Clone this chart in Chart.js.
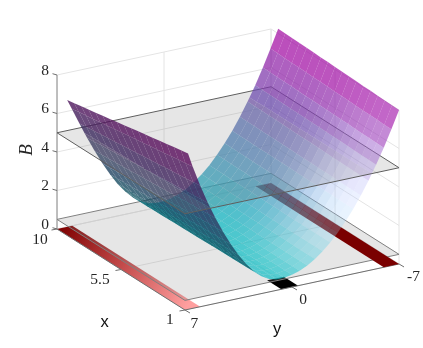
<!DOCTYPE html>
<html>
<head>
<meta charset="utf-8">
<style>html,body{margin:0;padding:0;background:#fff}canvas{display:block}</style>
<script src="https://cdn.jsdelivr.net/npm/chart.js@4"></script>
</head>
<body>
<canvas id="c" width="423" height="348"></canvas>
<script>
const xTicks = [10, 5.5, 1];
const yTicks = [7, 0, -7];
const zTicks = [0, 2, 4, 6, 8];
const planeLevels = [0.5, 5];
const xGrid = [1, 1.5, 2, 2.5, 3, 3.5, 4, 4.5, 5, 5.5, 6, 6.5, 7, 7.5, 8, 8.5, 9, 9.5];
const yGrid = [-7, -6.5, -6, -5.5, -5, -4.5, -4, -3.5, -3, -2.5, -2, -1.5, -1, -0.5, 0, 0.5, 1, 1.5, 2, 2.5, 3, 3.5, 4, 4.5, 5, 5.5, 6, 6.5, 6.8];
// one row per xGrid value, one column per yGrid value
const surfaceZ = [
  [8.00,7.08,6.21,5.41,4.67,3.99,3.37,2.82,2.32,1.88,1.51,1.20,.95,.76,.63,.56,.56,.67,.90,1.24,1.71,2.26,2.90,3.63,4.43,5.30,6.28,7.37,8.10],
  [8.01,7.09,6.22,5.42,4.68,4.00,3.38,2.82,2.32,1.88,1.51,1.20,.95,.76,.63,.56,.56,.67,.90,1.23,1.70,2.24,2.88,3.61,4.40,5.27,6.24,7.31,8.03],
  [8.03,7.11,6.23,5.43,4.69,4.00,3.38,2.83,2.33,1.88,1.51,1.20,.95,.76,.63,.56,.56,.67,.89,1.22,1.69,2.23,2.86,3.58,4.37,5.23,6.19,7.26,7.96],
  [8.04,7.12,6.24,5.44,4.69,4.01,3.39,2.83,2.33,1.89,1.52,1.20,.95,.76,.63,.56,.56,.67,.89,1.22,1.67,2.21,2.84,3.56,4.35,5.20,6.15,7.20,7.89],
  [8.06,7.13,6.25,5.45,4.70,4.02,3.39,2.84,2.33,1.89,1.52,1.21,.95,.76,.63,.56,.56,.66,.88,1.21,1.66,2.19,2.82,3.53,4.32,5.16,6.11,7.14,7.82],
  [8.07,7.14,6.27,5.46,4.71,4.02,3.40,2.84,2.34,1.89,1.52,1.21,.95,.76,.63,.56,.56,.66,.88,1.20,1.65,2.18,2.80,3.51,4.29,5.13,6.07,7.08,7.75],
  [8.09,7.16,6.28,5.47,4.72,4.03,3.40,2.84,2.34,1.89,1.52,1.21,.95,.76,.63,.56,.56,.66,.87,1.19,1.64,2.16,2.78,3.49,4.26,5.10,6.02,7.03,7.68],
  [8.10,7.17,6.29,5.48,4.73,4.04,3.41,2.85,2.34,1.90,1.52,1.21,.95,.76,.63,.56,.56,.66,.87,1.18,1.62,2.14,2.76,3.46,4.23,5.06,5.98,6.97,7.61],
  [8.12,7.18,6.30,5.49,4.74,4.04,3.41,2.85,2.35,1.90,1.52,1.21,.96,.77,.63,.56,.56,.65,.86,1.17,1.61,2.13,2.74,3.44,4.20,5.03,5.94,6.91,7.54],
  [8.13,7.20,6.31,5.49,4.74,4.05,3.42,2.86,2.35,1.90,1.53,1.21,.96,.77,.63,.56,.56,.65,.86,1.17,1.60,2.11,2.72,3.41,4.18,4.99,5.89,6.86,7.46],
  [8.15,7.21,6.32,5.50,4.75,4.06,3.42,2.86,2.36,1.90,1.53,1.21,.96,.77,.63,.56,.56,.65,.85,1.16,1.59,2.10,2.70,3.39,4.15,4.96,5.85,6.80,7.39],
  [8.16,7.22,6.33,5.51,4.76,4.06,3.43,2.87,2.36,1.91,1.53,1.21,.96,.77,.63,.56,.56,.65,.85,1.15,1.57,2.08,2.68,3.36,4.12,4.92,5.81,6.74,7.32],
  [8.18,7.24,6.34,5.52,4.77,4.07,3.43,2.87,2.36,1.91,1.53,1.22,.96,.77,.63,.56,.56,.64,.84,1.14,1.56,2.06,2.66,3.34,4.09,4.89,5.77,6.68,7.25],
  [8.19,7.25,6.36,5.53,4.78,4.07,3.44,2.87,2.37,1.91,1.53,1.22,.96,.77,.63,.56,.56,.64,.84,1.13,1.55,2.05,2.64,3.32,4.06,4.86,5.72,6.63,7.18],
  [8.21,7.26,6.37,5.54,4.78,4.08,3.44,2.88,2.37,1.91,1.54,1.22,.96,.77,.63,.56,.56,.64,.83,1.13,1.54,2.03,2.62,3.29,4.04,4.82,5.68,6.57,7.11],
  [8.22,7.27,6.38,5.55,4.79,4.09,3.45,2.88,2.37,1.92,1.54,1.22,.96,.77,.63,.56,.56,.64,.83,1.12,1.52,2.01,2.60,3.27,4.01,4.79,5.64,6.51,7.04],
  [8.24,7.29,6.39,5.56,4.80,4.09,3.45,2.89,2.38,1.92,1.54,1.22,.96,.77,.63,.56,.56,.63,.82,1.11,1.51,2.00,2.58,3.24,3.98,4.75,5.59,6.46,6.97],
  [8.25,7.30,6.40,5.57,4.81,4.10,3.46,2.89,2.38,1.92,1.54,1.22,.96,.77,.63,.56,.56,.63,.82,1.10,1.50,1.98,2.56,3.22,3.95,4.72,5.55,6.40,6.90],
];
// floor bars: y from, y to, x from, x to
const barLeft = [7, 6, 10, 1];
const barRight = [-6, -7, 10, 1];
const barMiddle = [0.7, -0.4, 2, 1];

// view of the box, same idea as view(az,el) but fitted to the picture
function project(x, y, z) {
  const u = 10 - x, v = 7 - y;
  return { x: 57 + u * 14.22 + v * 15.29, y: 229 + u * 9 - v * 3.286 - z * 19.25 };
}

const ctx = document.getElementById('c').getContext('2d');
const ds = [];
function poly(pts, color) {
  ds.push({ data: pts.map(p => project(p[0], p[1], p[2])), showLine: true, fill: 'shape', backgroundColor: color, borderWidth: 0, pointRadius: 0 });
}
function line(a, b, color, w) {
  ds.push({ data: [project(a[0], a[1], a[2]), project(b[0], b[1], b[2])], showLine: true, fill: false, borderColor: color, borderWidth: w || 1, pointRadius: 0 });
}
function tickMark(p, dx, dy, color) {
  const q = project(p[0], p[1], p[2]);
  ds.push({ data: [q, { x: q.x + dx, y: q.y + dy }], showLine: true, fill: false, borderColor: color, borderWidth: 1, pointRadius: 0 });
}
function bar(b, color) {
  poly([[b[2], b[0], 0], [b[2], b[1], 0], [b[3], b[1], 0], [b[3], b[0], 0]], color);
}

// clip a quad against z=level, keep the part on one side
function clipZ(pts, level, above) {
  const out = [];
  pts.forEach((p, i) => {
    const q = pts[(i + 1) % pts.length];
    const pIn = above ? p[2] >= level : p[2] <= level;
    const qIn = above ? q[2] >= level : q[2] <= level;
    if (pIn) out.push(p);
    if (pIn !== qIn) {
      const t = (level - p[2]) / (q[2] - p[2]);
      out.push([p[0] + t * (q[0] - p[0]), p[1] + t * (q[1] - p[1]), level]);
    }
  });
  return out;
}

function faceColor(x, y, z, front) {
  const t = Math.max(0, Math.min(1, 0.12 * z - 0.03));
  const k = front ? 195 - 15 * t : 100;
  let r = k * t, g = k * (1 - t), b = k * (1 - 0.1 * t);
  let alpha = front ? 0.74 : 0.8;
  if (front) {
    // highlight from the light, strongest near the x=1 end
    const sx = Math.exp(-Math.pow((x - 1) / 3.4, 2));
    const sy = Math.exp(-Math.pow((y + 4.2) / (y < -4.2 ? 1.7 : 3.3), 2));
    const s = sx * sy;
    r += (120 + 135 * t - r) * s; g += (255 - 135 * t - g) * s; b += (255 - b) * s;
    alpha -= 0.5 * s;
  }
  return `rgba(${Math.round(r)},${Math.round(g)},${Math.round(b)},${alpha.toFixed(3)})`;
}

// sort the cells into far wall (seen from inside) and near wall (seen from outside)
const farCells = [], nearCells = [];
for (let i = 0; i < xGrid.length - 1; i++) {
  for (let j = 0; j < yGrid.length - 1; j++) {
    const pts = [
      [xGrid[i], yGrid[j], surfaceZ[i][j]],
      [xGrid[i + 1], yGrid[j], surfaceZ[i + 1][j]],
      [xGrid[i + 1], yGrid[j + 1], surfaceZ[i + 1][j + 1]],
      [xGrid[i], yGrid[j + 1], surfaceZ[i][j + 1]],
    ];
    const s = pts.map(p => project(p[0], p[1], p[2]));
    let area = 0;
    s.forEach((p, n) => { const q = s[(n + 1) % 4]; area += p.x * q.y - q.x * p.y; });
    (area < 0 ? farCells : nearCells).push(pts);
  }
}
function drawCells(cells, front, above) {
  cells.forEach(pts => {
    const part = clipZ(pts, planeLevels[1], above);
    if (part.length < 3) return;
    const mx = pts.reduce((a, p) => a + p[0], 0) / 4, my = pts.reduce((a, p) => a + p[1], 0) / 4, mz = pts.reduce((a, p) => a + p[2], 0) / 4;
    poly(part, faceColor(mx, my, mz, front));
  });
}
function plane(z, edge) {
  poly([[10, 7, z], [1, 7, z], [1, -7, z], [10, -7, z]], 'rgba(128,128,128,0.2)');
  line([10, 7, z], [1, 7, z], edge);
  line([1, 7, z], [1, -7, z], edge);
  line([1, -7, z], [10, -7, z], edge);
  line([10, -7, z], [10, 7, z], edge);
}

// gridlines on the walls and floor
const gridCol = '#e4e4e4';
zTicks.forEach(z => {
  line([10, 7, z], [10, -7, z], gridCol);
  line([10, -7, z], [1, -7, z], gridCol);
});
xTicks.forEach(x => {
  line([x, 7, 0], [x, -7, 0], gridCol);
  line([x, -7, 0], [x, -7, 8], gridCol);
});
yTicks.forEach(y => {
  line([1, y, 0], [10, y, 0], gridCol);
  line([10, y, 0], [10, y, 8], gridCol);
});

const grad = ctx.createLinearGradient(project(10, 7, 0).x, project(10, 7, 0).y, project(1, 7, 0).x, project(1, 7, 0).y);
grad.addColorStop(0, '#7d0000');
grad.addColorStop(0.5, '#c44c4c');
grad.addColorStop(1, '#ff9f9f');
bar(barLeft, grad);
bar(barMiddle, '#000000');

// axes
const axisCol = '#6e6e6e';
line([10, 7, 0], [10, 7, 8], '#8a8a8a');
line([10, 7, 0], [1, 7, 0], axisCol);
line([1, 7, 0], [1, -7, 0], axisCol);
zTicks.forEach(z => tickMark([10, 7, z], -4.5, -1.3, axisCol));
xTicks.forEach(x => tickMark([x, 7, 0], -5.5, 1, axisCol));
yTicks.forEach(y => tickMark([1, y, 0], 5, 3, axisCol));

plane(planeLevels[0], '#808080');
bar(barRight, '#7a0000');
drawCells(farCells, true, false);
drawCells(nearCells, false, false);
plane(planeLevels[1], '#5e5e5e');
drawCells(farCells, true, true);
drawCells(nearCells, false, true);

ds.forEach((d, i) => { d.order = -i; });

const labels = {
  id: 'labels',
  afterDatasetsDraw(chart) {
    const g = chart.ctx, sx = chart.scales.x, sy = chart.scales.y;
    const put = (txt, p, dx, dy) => g.fillText(txt, sx.getPixelForValue(p.x) + dx, sy.getPixelForValue(p.y) + dy);
    g.save();
    g.fillStyle = '#262626';
    g.textAlign = 'center';
    g.textBaseline = 'middle';
    g.font = '15.5px "Liberation Serif"';
    zTicks.forEach(z => put(String(z), project(10, 7, z), -12, -4.5));
    xTicks.forEach((x, i) => put(String(x), project(x, 7, 0), [-17, -21, -15][i], [11, 10.5, 10][i]));
    yTicks.forEach((y, i) => put(String(y), project(1, y, 0), [9.5, 11, 14.5][i], [13.5, 13, 13][i]));
    g.font = '16.5px "Liberation Sans"';
    g.fillStyle = '#111';
    g.fillText('x', 104.5, 322);
    g.fillText('y', 277, 329);
    g.translate(27, 150);
    g.rotate(-Math.PI / 2);
    g.font = 'italic 19px "Liberation Serif"';
    g.fillStyle = '#262626';
    g.fillText('B', 0, 0);
    g.restore();
  },
};

new Chart(ctx, {
  type: 'scatter',
  data: { datasets: ds },
  options: {
    responsive: false,
    animation: false,
    events: [],
    layout: { padding: 0 },
    plugins: { legend: { display: false }, tooltip: { enabled: false } },
    scales: {
      x: { type: 'linear', min: 0, max: 423, display: false },
      y: { type: 'linear', min: 0, max: 348, reverse: true, display: false },
    },
  },
  plugins: [labels],
});
</script>
</body>
</html>
